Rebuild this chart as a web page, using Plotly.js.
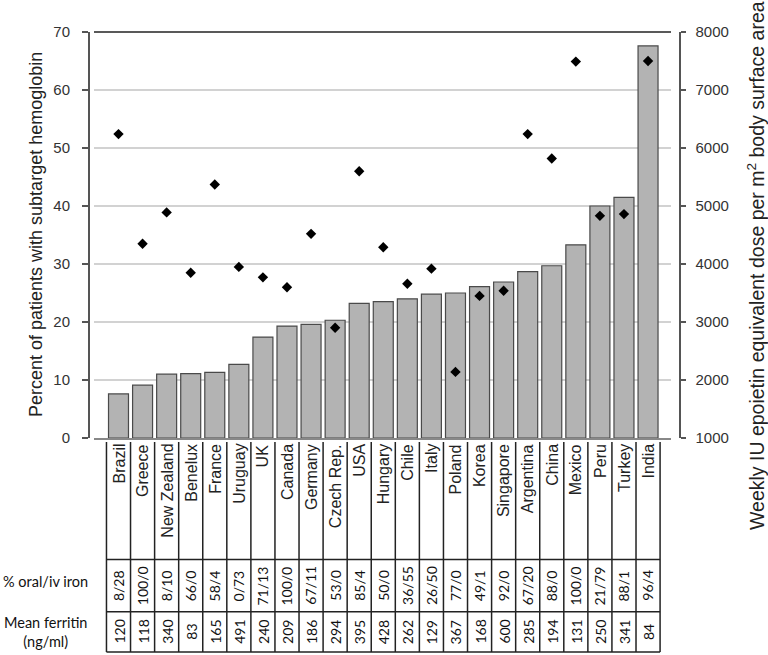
<!DOCTYPE html>
<html><head><meta charset="utf-8">
<script src="https://cdn.plot.ly/plotly-3.0.1.min.js"></script>
<style>body{margin:0;background:#fff}#chart{width:768px;height:655px}</style>
</head><body>
<div id="chart"></div>
<script>
// data
const countries = ['Brazil', 'Greece', 'New Zealand', 'Benelux', 'France', 'Uruguay', 'UK', 'Canada',
  'Germany', 'Czech Rep.', 'USA', 'Hungary', 'Chile', 'Italy', 'Poland', 'Korea', 'Singapore',
  'Argentina', 'China', 'Mexico', 'Peru', 'Turkey', 'India'];
const pctSubtarget = [7.6, 9.1, 11.0, 11.1, 11.3, 12.7, 17.4, 19.3, 19.6, 20.3, 23.2, 23.5,
  24.0, 24.8, 25.0, 26.1, 26.9, 28.7, 29.7, 33.3, 40.0, 41.5, 67.6];
const epoDose = [6240, 4350, 4890, 3850, 5370, 3950, 3770, 3600, 4520, 2900, 5600, 4290,
  3660, 3920, 2140, 3450, 3540, 6240, 5820, 7490, 4830, 4860, 7500];
const ironOralIv = ['8/28', '100/0', '8/10', '66/0', '58/4', '0/73', '71/13', '100/0', '67/11', '53/0',
  '85/4', '50/0', '36/55', '26/50', '77/0', '49/1', '92/0', '67/20', '88/0', '100/0', '21/79', '88/1', '96/4'];
const ferritin = [120, 118, 340, 83, 165, 491, 240, 209, 186, 294, 395, 428, 262, 129, 367, 168,
  600, 285, 194, 131, 250, 341, 84];

// page geometry (pixels)
const W = 768, H = 655;
const M = { l: 88, r: 89, t: 32, b: 217 };
const plotL = 94, plotR = 671;
const paperW = W - M.l - M.r, paperH = H - M.t - M.b;
const px = x => (x - M.l) / paperW;
const py = y => (H - M.b - y) / paperH;

const arial = 'Liberation Sans, Arial, sans-serif';
const cal = 'Lato, Carlito, sans-serif';

const n = countries.length;
const colW = 24.07, firstC = 118.5;
const xr0 = -(firstC - plotL) / colW;
const xr1 = xr0 + (plotR - plotL) / colW;

const traces = [
  { type: 'bar', x: countries, y: pctSubtarget, marker: { color: '#b3b3b3', line: { color: '#4a4a4a', width: 1.2 } },
    hoverinfo: 'x+y' },
  { type: 'scatter', mode: 'markers', x: countries, y: epoDose, yaxis: 'y2',
    marker: { symbol: 'diamond', size: 8, color: '#000' } }
];

const shapes = [
  { type: 'line', xref: 'paper', yref: 'paper', x0: px(plotL), x1: px(plotR), y0: 1, y1: 1, line: { color: '#222', width: 1.5 } }
];
// table grid
for (let i = 0; i <= n; i++) {
  shapes.push({ type: 'line', xref: 'x', yref: 'paper', x0: i - 0.5, x1: i - 0.5, y0: py(442), y1: py(652),
    line: { color: '#222', width: 1.5 } });
}
[559.5, 611.7, 652].forEach(y => shapes.push({ type: 'line', xref: 'x', yref: 'paper', x0: -0.5, x1: n - 0.5,
  y0: py(y), y1: py(y), line: { color: '#222', width: 1.5 } }));

const annotations = [];
countries.forEach((c, i) => {
  annotations.push({ text: c, x: c, xref: 'x', yref: 'paper', y: py(442), yanchor: 'top', xanchor: 'center',
    textangle: -90, showarrow: false, font: { family: arial, size: 16, color: '#222' } });
  annotations.push({ text: ironOralIv[i], x: c, xref: 'x', yref: 'paper', y: py(585.6), yanchor: 'middle',
    xanchor: 'center', textangle: -90, showarrow: false, font: { family: cal, size: 14, color: '#111' } });
  annotations.push({ text: String(ferritin[i]), x: c, xref: 'x', yref: 'paper', y: py(632), yanchor: 'middle',
    xanchor: 'center', textangle: -90, showarrow: false, font: { family: cal, size: 14, color: '#111' } });
});
annotations.push(
  { text: '% oral/iv iron', xref: 'paper', yref: 'paper', x: px(45), y: py(581.7), xanchor: 'center',
    yanchor: 'middle', showarrow: false, font: { family: cal, size: 14.5, color: '#111' } },
  { text: 'Mean ferritin<br>(ng/ml)', xref: 'paper', yref: 'paper', x: px(45), y: py(631.7), xanchor: 'center',
    yanchor: 'middle', showarrow: false, font: { family: cal, size: 14.5, color: '#111' } },
  { text: 'Percent of patients with subtarget hemoglobin', xref: 'paper', yref: 'paper', x: px(36), y: py(235),
    xanchor: 'center', yanchor: 'middle', textangle: -90, showarrow: false,
    font: { family: arial, size: 18, color: '#222' } },
  { text: 'Weekly IU epoietin equivalent dose per m<sup>2</sup> body surface area', xref: 'paper', yref: 'paper',
    x: px(756), y: py(266), xanchor: 'center', yanchor: 'middle', textangle: -90, showarrow: false,
    font: { family: arial, size: 19.5, color: '#222' } }
);

const layout = {
  width: W, height: H, margin: M, paper_bgcolor: '#fff', plot_bgcolor: '#fff',
  showlegend: false, bargap: 0.17,
  xaxis: { type: 'category', range: [xr0, xr1], domain: [px(plotL), px(plotR)], showticklabels: false,
    ticks: '', showgrid: false, showline: true, linecolor: '#888', linewidth: 1.5, fixedrange: true },
  yaxis: { range: [0, 70], dtick: 10, anchor: 'free', position: 0, showgrid: true, gridcolor: '#d2d2d2', gridwidth: 1.5,
    zeroline: false, showline: true, linecolor: '#555', linewidth: 1.5, ticks: 'outside', ticklen: 6,
    tickcolor: '#555', tickwidth: 1.5, ticklabelstandoff: 9, tickfont: { family: arial, size: 15, color: '#333' } },
  yaxis2: { range: [1000, 8000], dtick: 1000, overlaying: 'y', side: 'right', anchor: 'free', position: 1,
    showgrid: false, zeroline: false, showline: true, linecolor: '#555', linewidth: 1.5, ticks: 'outside',
    ticklen: 5, tickcolor: '#555', tickwidth: 1.5, ticklabelstandoff: 7,
    tickfont: { family: arial, size: 15, color: '#333' } },
  shapes, annotations
};

Plotly.newPlot('chart', traces, layout, { displayModeBar: false, staticPlot: true });
</script>
</body></html>
